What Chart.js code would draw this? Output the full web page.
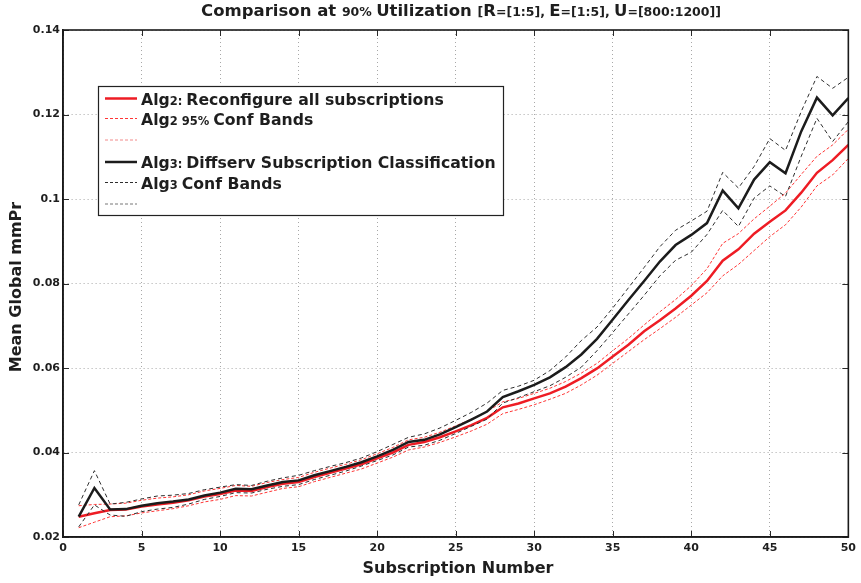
<!DOCTYPE html>
<html>
<head>
<meta charset="utf-8">
<script src="https://cdn.jsdelivr.net/npm/chart.js@4/dist/chart.umd.min.js"></script>
<style>
  html, body { margin: 0; padding: 0; background: #ffffff; }
  #wrap { width: 861px; height: 583px; }
</style>
</head>
<body>
<div id="wrap"><canvas id="c" width="861" height="583"></canvas></div>
<script>
// Subscription index (x axis)
const subscriptions = [1,2,3,4,5,6,7,8,9,10,11,12,13,14,15,16,17,18,19,20,21,22,23,24,25,
  26,27,28,29,30,31,32,33,34,35,36,37,38,39,40,41,42,43,44,45,46,47,48,49,50];

// Alg2: reconfigure all subscriptions — mean and 95% confidence bands
const alg2Mean = [0.0248,0.0256,0.0264,0.0265,0.0272,0.0277,0.0281,0.0287,0.0296,0.0302,
  0.0310,0.0309,0.0318,0.0326,0.0330,0.0342,0.0352,0.0362,0.0372,0.0386,
  0.0400,0.0418,0.0425,0.0436,0.0450,0.0465,0.0482,0.0507,0.0516,0.0528,
  0.0540,0.0556,0.0576,0.0599,0.0627,0.0655,0.0687,0.0713,0.0741,0.0771,
  0.0806,0.0854,0.0881,0.0918,0.0946,0.0973,0.1015,0.1062,0.1092,0.1128];
const alg2Upper = [0.0274,0.0277,0.0278,0.0280,0.0287,0.0292,0.0295,0.0300,0.0309,0.0315,
  0.0322,0.0320,0.0329,0.0336,0.0341,0.0353,0.0363,0.0372,0.0383,0.0397,
  0.0412,0.0430,0.0436,0.0448,0.0463,0.0479,0.0497,0.0520,0.0528,0.0540,
  0.0552,0.0568,0.0588,0.0611,0.0641,0.0670,0.0702,0.0733,0.0762,0.0795,
  0.0835,0.0895,0.0918,0.0953,0.0983,0.1014,0.1058,0.1101,0.1128,0.1165];
const alg2Lower = [0.0222,0.0235,0.0248,0.0250,0.0257,0.0262,0.0267,0.0274,0.0283,0.0289,
  0.0298,0.0297,0.0306,0.0315,0.0319,0.0331,0.0341,0.0351,0.0361,0.0375,
  0.0389,0.0406,0.0413,0.0424,0.0437,0.0451,0.0467,0.0492,0.0502,0.0513,
  0.0526,0.0540,0.0560,0.0583,0.0611,0.0639,0.0667,0.0693,0.0720,0.0749,
  0.0778,0.0818,0.0845,0.0878,0.0911,0.0939,0.0981,0.1031,0.1057,0.1096];

// Alg3: Diffserv subscription classification — mean and confidence bands
const alg3Mean = [0.0248,0.0316,0.0265,0.0266,0.0274,0.0280,0.0284,0.0289,0.0298,0.0305,
  0.0314,0.0313,0.0322,0.0330,0.0334,0.0346,0.0356,0.0366,0.0377,0.0391,
  0.0406,0.0425,0.0430,0.0443,0.0460,0.0478,0.0497,0.0531,0.0545,0.0560,
  0.0578,0.0602,0.0632,0.0669,0.0715,0.0761,0.0806,0.0852,0.0891,0.0915,
  0.0943,0.1020,0.0978,0.1046,0.1087,0.1061,0.1160,0.1240,0.1198,0.1239];
const alg3Upper = [0.0276,0.0357,0.0278,0.0282,0.0290,0.0297,0.0299,0.0303,0.0312,0.0318,
  0.0324,0.0322,0.0332,0.0340,0.0346,0.0357,0.0367,0.0376,0.0387,0.0402,
  0.0419,0.0436,0.0444,0.0458,0.0476,0.0495,0.0517,0.0547,0.0557,0.0571,
  0.0594,0.0626,0.0665,0.0697,0.0742,0.0790,0.0838,0.0887,0.0926,0.0948,
  0.0971,0.1063,0.1026,0.1077,0.1143,0.1115,0.1207,0.1290,0.1262,0.1288];
const alg3Lower = [0.0224,0.0276,0.0252,0.0249,0.0260,0.0266,0.0270,0.0278,0.0289,0.0296,
  0.0305,0.0304,0.0313,0.0320,0.0324,0.0336,0.0346,0.0356,0.0368,0.0381,
  0.0394,0.0413,0.0417,0.0429,0.0445,0.0462,0.0479,0.0517,0.0530,0.0544,
  0.0558,0.0578,0.0602,0.0641,0.0684,0.0728,0.0772,0.0818,0.0855,0.0874,
  0.0916,0.0973,0.0935,0.1002,0.1031,0.1006,0.1101,0.1191,0.1136,0.1183];

// Axis ranges and ticks
const xTicks = [0,5,10,15,20,25,30,35,40,45,50];
const yTicks = [0.02,0.04,0.06,0.08,0.1,0.12,0.14];

const FONT = '"DejaVu Sans", "Liberation Sans", sans-serif';
const RED = '#ee1c24';
const RED_DASH = '#ff3535';
const BLACK = '#1c1c1c';
const BLACK_DASH = '#2e2e2e';

const pts = arr => subscriptions.map((s, i) => ({ x: s, y: arr[i] }));

// Draws a run of text pieces, each with its own font size, on one baseline.
function drawRich(ctx, segs, x, y, align) {
  let total = 0;
  segs.forEach(([t, size]) => {
    ctx.font = `bold ${size}px ${FONT}`;
    total += ctx.measureText(t).width;
  });
  let cx = align === 'center' ? x - total / 2 : x;
  ctx.textAlign = 'left';
  ctx.textBaseline = 'alphabetic';
  segs.forEach(([t, size]) => {
    ctx.font = `bold ${size}px ${FONT}`;
    ctx.fillText(t, cx, y);
    cx += ctx.measureText(t).width;
  });
  return total;
}

const TL = 16.5, TS = 12.5;   // title sizes
const LL = 15.7, LS = 11.5;   // legend sizes

const titleSegs = [
  ['Comparison at ', TL], ['90% ', TS], ['Utilization ', TL], ['[', TS],
  ['R', TL], ['=[1:5], ', TS], ['E', TL], ['=[1:5], ', TS], ['U', TL], ['=[800:1200]]', TS]
];

const legendRows = [
  { color: RED, width: 2.5, dash: [], segs: [['Alg', LL], ['2: ', LS], ['Reconfigure all subscriptions', LL]] },
  { color: RED_DASH, width: 1, dash: [3, 2], segs: [['Alg', LL], ['2 95% ', LS], ['Conf Bands', LL]] },
  { color: '#f28a8a', width: 1, dash: [3, 2], segs: [] },
  { color: BLACK, width: 2.5, dash: [], segs: [['Alg', LL], ['3: ', LS], ['Diffserv Subscription Classification', LL]] },
  { color: BLACK_DASH, width: 1, dash: [3, 2], segs: [['Alg', LL], ['3 ', LS], ['Conf Bands', LL]] },
  { color: '#777777', width: 1, dash: [3, 2], segs: [] }
];

const frame = {
  id: 'frame',
  afterDatasetsDraw(chart) {
    const { ctx, chartArea: a, scales } = chart;
    ctx.save();
    // inward tick marks on all four sides
    ctx.strokeStyle = '#2a2a2a';
    ctx.lineWidth = 1;
    ctx.setLineDash([]);
    xTicks.forEach(v => {
      const px = Math.round(scales.x.getPixelForValue(v)) + 0.5;
      ctx.beginPath();
      ctx.moveTo(px, a.bottom); ctx.lineTo(px, a.bottom - 6);
      ctx.moveTo(px, a.top); ctx.lineTo(px, a.top + 6);
      ctx.stroke();
    });
    yTicks.forEach(v => {
      const py = Math.round(scales.y.getPixelForValue(v)) + 0.5;
      ctx.beginPath();
      ctx.moveTo(a.left, py); ctx.lineTo(a.left + 6, py);
      ctx.moveTo(a.right, py); ctx.lineTo(a.right - 6, py);
      ctx.stroke();
    });
    // axes box
    ctx.lineWidth = 1.6;
    ctx.strokeStyle = '#1a1a1a';
    ctx.strokeRect(a.left, a.top, a.right - a.left, a.bottom - a.top);

    // legend
    const lx = 98.5, ly = 86.5, lw = 405, lh = 129;
    ctx.fillStyle = '#ffffff';
    ctx.fillRect(lx, ly, lw, lh);
    ctx.lineWidth = 1.2;
    ctx.strokeStyle = '#222222';
    ctx.strokeRect(lx, ly, lw, lh);
    const rowY = [98.5, 118.5, 140, 162, 182.5, 204];
    legendRows.forEach((r, i) => {
      const yy = rowY[i];
      ctx.strokeStyle = r.color;
      ctx.lineWidth = r.width;
      ctx.setLineDash(r.dash);
      ctx.beginPath();
      ctx.moveTo(105, yy); ctx.lineTo(137, yy);
      ctx.stroke();
      ctx.setLineDash([]);
      if (r.segs.length) {
        ctx.fillStyle = '#1e1e1e';
        drawRich(ctx, r.segs, 141, yy + 6, 'left');
      }
    });

    // title and axis titles
    ctx.fillStyle = '#1e1e1e';
    drawRich(ctx, titleSegs, 461, 16, 'center');
    ctx.font = `bold 16px ${FONT}`;
    ctx.textAlign = 'center';
    ctx.textBaseline = 'middle';
    ctx.fillText('Subscription Number', 458, 569);
    ctx.save();
    ctx.translate(17, 287);
    ctx.rotate(-Math.PI / 2);
    ctx.fillText('Mean Global mmPr', 0, 0);
    ctx.restore();
    ctx.restore();
  }
};

const ds = (label, arr, color, width, dash, order) => ({
  label, data: pts(arr), borderColor: color, backgroundColor: color,
  borderWidth: width, borderDash: dash, pointRadius: 0, tension: 0, fill: false, order
});

new Chart(document.getElementById('c'), {
  type: 'line',
  data: {
    datasets: [
      ds('Alg3 mean', alg3Mean, BLACK, 2.5, [], 0),
      ds('Alg3 upper', alg3Upper, BLACK_DASH, 1, [4, 3], 1),
      ds('Alg3 lower', alg3Lower, BLACK_DASH, 1, [4, 3], 1),
      ds('Alg2 mean', alg2Mean, RED, 2.5, [], 2),
      ds('Alg2 upper', alg2Upper, RED_DASH, 1, [3, 2], 3),
      ds('Alg2 lower', alg2Lower, RED_DASH, 1, [3, 2], 3)
    ]
  },
  options: {
    responsive: false,
    animation: false,
    devicePixelRatio: 1,
    layout: { padding: { top: 30, right: 8, left: 0, bottom: 0 } },
    plugins: { legend: { display: false }, title: { display: false }, tooltip: { enabled: false } },
    scales: {
      x: {
        type: 'linear', min: 0, max: 50,
        afterFit: s => { s.height = 46; },
        afterBuildTicks: s => { s.ticks = xTicks.map(v => ({ value: v })); },
        ticks: { color: '#1e1e1e', font: { family: FONT, size: 11, weight: 'bold' }, padding: 5, maxRotation: 0 },
        grid: { color: '#a8a8a8', lineWidth: 1, drawTicks: false },
        border: { display: true, color: '#1a1a1a', width: 1.6, dash: [1, 3] }
      },
      y: {
        type: 'linear', min: 0.02, max: 0.14,
        afterFit: s => { s.width = 63; },
        afterBuildTicks: s => { s.ticks = yTicks.map(v => ({ value: v })); },
        ticks: {
          color: '#1e1e1e', font: { family: FONT, size: 11, weight: 'bold' }, padding: 3,
          callback: v => String(Number(v.toFixed(2)))
        },
        grid: { color: '#a8a8a8', lineWidth: 1, drawTicks: false },
        border: { display: true, color: '#1a1a1a', width: 1.6, dash: [1, 3] }
      }
    }
  },
  plugins: [frame]
});
</script>
</body>
</html>
